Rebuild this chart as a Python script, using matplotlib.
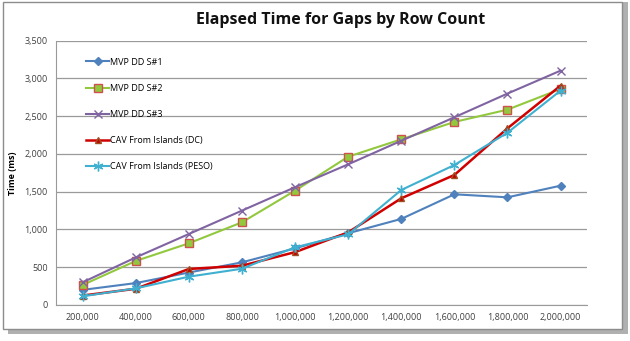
import matplotlib.pyplot as plt
from matplotlib.patches import Rectangle
from matplotlib.ticker import FuncFormatter

# 行数 (カテゴリ) と各シリーズの経過時間 (ms)
row_counts = ["200,000", "400,000", "600,000", "800,000", "1,000,000",
              "1,200,000", "1,400,000", "1,600,000", "1,800,000", "2,000,000"]
mvp_dds1 = [200, 290, 430, 565, 750, 950, 1140, 1466, 1426, 1580]
mvp_dds2 = [265, 583, 817, 1095, 1514, 1964, 2194, 2424, 2587, 2861]
mvp_dds3 = [300, 630, 940, 1250, 1560, 1863, 2175, 2486, 2800, 3104]
cav_dc = [125, 215, 477, 520, 700, 962, 1413, 1722, 2340, 2905]
cav_peso = [115, 220, 375, 480, 764, 936, 1523, 1854, 2282, 2840]

plt.rcParams['font.family'] = ['Open Sans', 'DejaVu Sans']

fig = plt.figure(figsize=(6.3, 3.41), dpi=100)

# 外枠と影
fig.patches.append(Rectangle((0.012, 0.02), 0.985, 0.975, transform=fig.transFigure,
                             facecolor="#b0b0b0", edgecolor="none", zorder=-2))
fig.patches.append(Rectangle((0.005, 0.035), 0.982, 0.958, transform=fig.transFigure,
                             facecolor="white", edgecolor="#8c8c8c", linewidth=1.0, zorder=-1))

ax = fig.add_axes([0.089, 0.1056, 0.843, 0.775])
x = range(len(row_counts))

ax.plot(x, mvp_dds1, color="#4F81BD", marker="D", markersize=4, lw=1.5, label="MVP DD S#1")
ax.plot(x, mvp_dds2, color="#92C83E", marker="s", markersize=6, lw=1.5,
        markerfacecolor="#92C83E", markeredgecolor="#D0504D", label="MVP DD S#2")
ax.plot(x, mvp_dds3, color="#8064A2", marker="x", markersize=6, lw=1.5, label="MVP DD S#3")
ax.plot(x, cav_dc, color="#D00000", marker="^", markersize=5, lw=1.8,
        markerfacecolor="#C00000", markeredgecolor="#A05020", label="CAV From Islands (DC)")
ax.plot(x, cav_peso, color="#3FB0D0", marker=(6, 2, 0), markersize=7, lw=1.5,
        label="CAV From Islands (PESO)")

ax.set_xlim(-0.5, len(row_counts) - 0.5)
ax.set_ylim(0, 3500)
ax.set_yticks(range(0, 3501, 500))
ax.yaxis.set_major_formatter(FuncFormatter(lambda v, p: f"{int(v):,}"))
ax.set_xticks(list(x))
ax.set_xticklabels(row_counts)
ax.tick_params(axis="both", labelsize=6.5, length=0, colors="#404040", pad=6)
ax.grid(axis="y", color="#9a9a9a", lw=0.9)
ax.set_axisbelow(True)
for s in ["top", "right"]:
    ax.spines[s].set_visible(False)
for s in ["left", "bottom"]:
    ax.spines[s].set_color("#9a9a9a")

ax.set_ylabel("Time (ms)", fontsize=6.5, fontweight="bold")
ax.yaxis.set_label_coords(-0.073, 0.5)

fig.text(0.54, 0.94, "Elapsed Time for Gaps by Row Count", ha="center", va="center",
         fontsize=11.5, fontweight="bold", color="#111111")

ax.legend(loc="upper left", bbox_to_anchor=(0.05, 0.95), frameon=False, fontsize=6.5,
          labelspacing=1.9, handlelength=2.5, handletextpad=0.1, borderaxespad=0)

plt.savefig("out.png", dpi=100)
